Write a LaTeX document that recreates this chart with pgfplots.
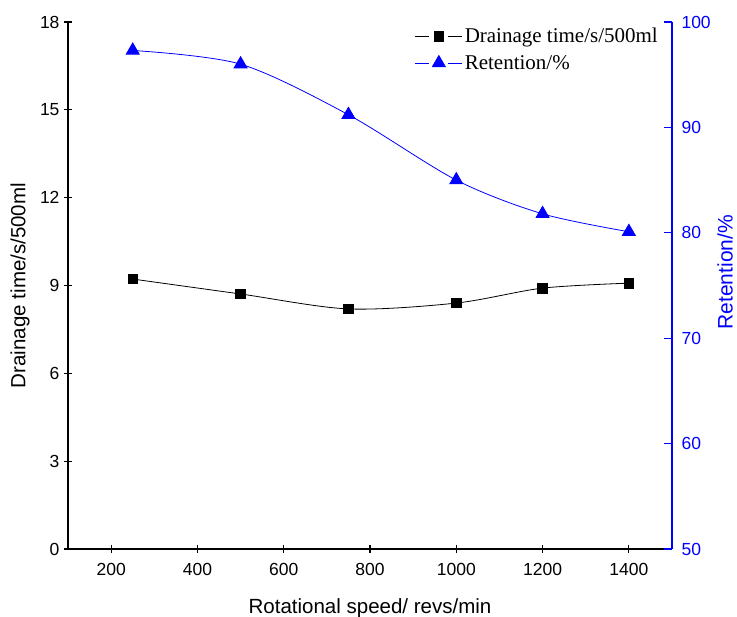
\documentclass[border=0pt]{standalone}
\usepackage{pgfplots}
\pgfplotsset{compat=1.18}
\usepackage{fontspec}
\setmainfont{Liberation Sans}
\newfontfamily\legfont{Liberation Serif}
\definecolor{retblue}{RGB}{0,0,255}

\begin{document}
\begin{tikzpicture}
\pgfplotsset{
  every axis/.append style={
    width=604pt, height=527pt, scale only axis,
    xmin=100, xmax=1500,
    tick align=inside,
    major tick length=8pt,
    /pgf/number format/assume math mode=true,
    tick label style={font=\fontsize{17.5}{20}\selectfont},
    label style={font=\fontsize{20.5}{24}\selectfont},
  },
  seglegend/.style={legend image code/.code={
    \draw[##1, mark=none] (0pt,0pt) -- (14pt,0pt);
    \draw[##1, mark=none] (33pt,0pt) -- (47pt,0pt);
    \draw[##1, only marks] plot coordinates {(23.5pt,0pt)};
  }},
}
\begin{axis}[
  axis x line=bottom,
  axis y line=left,
  axis line style={-, line width=1.3pt},
  tick style={black, line width=1.1pt},
  ymin=0, ymax=18,
  ytick={0,3,...,18},
  xtick={200,400,...,1400},
  xticklabel style={yshift=-7pt},
  yticklabel style={xshift=-1pt},
  xlabel={Rotational speed/ revs/min},
  xlabel style={at={(axis description cs:0.5,0)}, anchor=center, yshift=-59pt},
  ylabel={Drainage time/s/500ml},
  ylabel style={at={(axis description cs:0,0.5)}, anchor=center, yshift=48pt},
  /pgf/number format/1000 sep={},
]
\addplot[black, line width=0.8pt, smooth, mark=square*, mark size=4.8pt, mark options={solid}]
  coordinates {(250,9.22) (500,8.71) (750,8.20) (1000,8.40) (1200,8.91) (1400,9.08)};
\end{axis}
\begin{axis}[
  axis x line=none,
  axis y line*=right,
  axis line style={-, retblue, line width=1.3pt},
  y tick style={retblue, line width=1.1pt},
  yticklabel style={retblue, xshift=6pt},
  ymin=50, ymax=100,
  ytick={50,60,...,100},
  ylabel={Retention/\%},
  ylabel style={retblue, font=\fontsize{21}{24}\selectfont,
    at={(axis description cs:1,0.525)}, anchor=center, yshift=-53pt},
  seglegend,
  legend style={draw=none, fill=none, at={(1,1)}, anchor=north east,
    xshift=-12pt, yshift=-4pt, inner sep=0pt,
    font=\legfont\fontsize{21}{24}\selectfont, row sep=7pt,
    /tikz/every even column/.append style={column sep=6pt}},
  legend cell align=left,
]
\addlegendimage{black, line width=0.8pt, mark=square*, mark size=4.8pt}
\addlegendentry{Drainage time/s/500ml}
\addplot[retblue, line width=0.8pt, smooth, mark=triangle*, mark size=7.5pt, mark options={solid}]
  coordinates {(250,97.3) (500,96.0) (750,91.2) (1000,85.0) (1200,81.8) (1400,80.1)};
\addlegendentry{Retention/\%}
\end{axis}
\pgfresetboundingbox
\path[use as bounding box] (-68pt,-68pt) rectangle (669pt,549pt);
\end{tikzpicture}
\end{document}
